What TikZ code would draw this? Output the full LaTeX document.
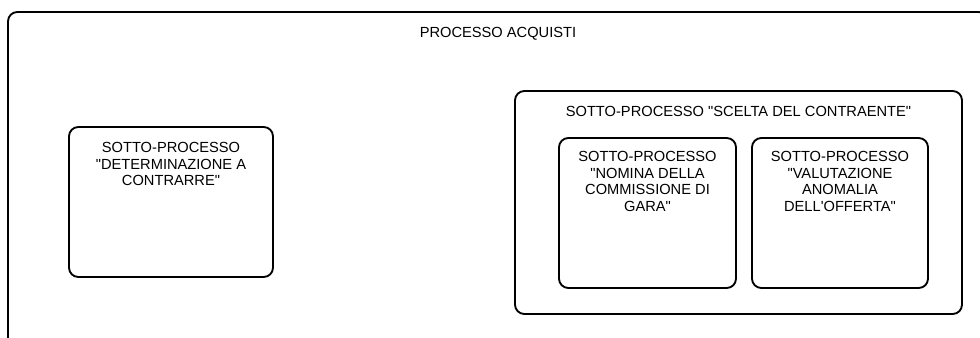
\documentclass[tikz,border=0pt]{standalone}
\usepackage{fontspec}
\setmainfont{Liberation Sans}[Ligatures=TeXOff]
\usetikzlibrary{fit,positioning}

\begin{document}
\begin{tikzpicture}[x=0.75pt, y=-0.75pt,
  every node/.style={font=\fontsize{11}{12.4}\selectfont},
  box/.style={draw, line width=1.4pt, rounded corners=7pt, inner sep=0pt},
  title/.style={anchor=north, align=center, inner sep=0pt, below=12pt of #1.north}]
  \clip (0,0) rectangle (980,338);

  % outer process, cut at the right and bottom
  \node[box, fit={(8,12) (988,350)}] (acq) {};
  \node[title=acq] (acqtxt) {PROCESSO ACQUISTI};

  \node[box, fit={(69,127) (273,277)}] (det) {};
  \node[title=det] (dettxt) {SOTTO-PROCESSO\\"DETERMINAZIONE A\\CONTRARRE"};

  \node[box, fit={(515,91) (962,314)}] (scelta) {};
  \node[title=scelta] (sceltatxt) {SOTTO-PROCESSO "SCELTA DEL CONTRAENTE"};

  \node[box, fit={(559,138) (736,288)}] (nomina) {};
  \node[title=nomina, below=10.5pt of nomina.north] (nominatxt) {SOTTO-PROCESSO\\"NOMINA DELLA\\COMMISSIONE DI\\GARA"};

  \node[box, fit={(752,138) (928,288)}] (valut) {};
  \node[title=valut, below=10.5pt of valut.north] (valuttxt) {SOTTO-PROCESSO\\"VALUTAZIONE\\ANOMALIA\\DELL'OFFERTA"};
\end{tikzpicture}
\end{document}
